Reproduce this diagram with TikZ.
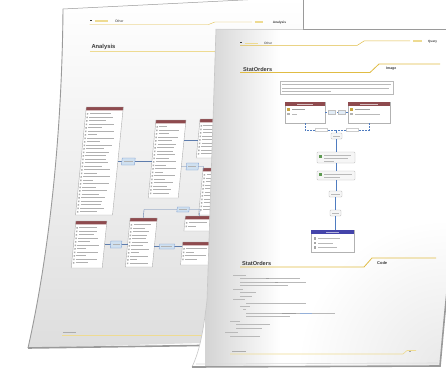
\documentclass[tikz,border=0pt]{standalone}
\usepackage{fontspec}
\setmainfont{Liberation Sans}
\usetikzlibrary{calc}

\definecolor{gold}{HTML}{E0BC44}
\definecolor{goldlight}{HTML}{EEDB92}
\definecolor{maroon}{HTML}{8E4A4E}
\definecolor{connblue}{HTML}{4F7CC0}
\definecolor{lblfill}{HTML}{CFE0F0}
\definecolor{indigo}{HTML}{4444AA}
\definecolor{edgegray}{HTML}{9A9A9A}
\definecolor{ink}{HTML}{3A3A3A}
\definecolor{keyicon}{HTML}{C9A640}
\definecolor{greenicon}{HTML}{5E9A52}

\tikzset{
  tableedge/.style={draw=gray!65, line width=0.4},
  rowtext/.style={draw=gray!62, line width=0.9},
  rowicon/.style={fill=gray!65},
  linkline/.style={draw=connblue!70!gray, line width=0.4},
  lblbox/.style={fill=lblfill, draw=connblue!80, line width=0.3},
  dashconn/.style={draw=connblue, line width=0.7, dash pattern=on 2pt off 1pt},
  flowline/.style={draw=connblue, line width=0.7},
  flowbox/.style={draw=gray!55, fill=gray!7, rounded corners=0.8pt, line width=0.4, inner sep=0pt},
  bar/.style={draw=gray!55, line width=0.9},
  darkbar/.style={draw=gray!75, line width=1.0},
  headtext/.style={anchor=west, inner sep=0pt, text=ink},
}

% one database table: x1, y1, x2, y2, header colour
\newcommand\ertable[5]{%
  \pgfmathsetmacro\tw{#3-#1}%
  \pgfmathsetmacro\hb{#2+3.4}%
  \fill[white] (#1,#2) rectangle (#3,#4);
  \fill[#5] (#1,#2) rectangle (#3,\hb);
  \draw[tableedge] (#1,#2) rectangle (#3,#4);
  \pgfmathtruncatemacro\nrows{(#4-#2-6)/3.5}%
  \foreach \k in {1,...,\nrows}{
    \pgfmathsetmacro\yy{#2+3.4+3.5*\k}
    \pgfmathsetmacro\xe{#1+4.2+(0.3+0.55*abs(sin(\k*83+#1*7)))*(\tw-6)}
    \fill[rowicon] (#1+1.2,\yy-0.7) rectangle (#1+2.6,\yy+0.7);
    \draw[rowtext] (#1+4,\yy) -- (\xe,\yy);
  }
}

\begin{document}
\begin{tikzpicture}[x=1pt,y=-1pt]
\useasboundingbox (0,0) rectangle (446,369);
\fill[white] (0,0) rectangle (446,369);

% ---------------- back page ----------------
\def\backpage{(63,9) -- (303,-3) -- (303,340) -- (28,348)
  .. controls (50,250) and (62,130) .. (63,9) -- cycle}
\shade[top color=white, bottom color=gray!26] \backpage;
\begin{scope}
  \clip \backpage;
  \begin{scope}[xslant=0.1]
    % running header
    \draw[ink, line width=0.6] (92,20) -- (93.5,20);
    \draw[goldlight, line width=1.2] (97,21) -- (110,21);
    \node[headtext, font=\fontsize{3.4}{4}\selectfont] at (117,21.5) {Other};
    \draw[gold, line width=0.4] (92,24.5) -- (211,24.5) -- (217,22) -- (254,22);
    \draw[goldlight, line width=1.2] (257,22) -- (265,22);
    \node[headtext, font=\fontsize{3.2}{4}\selectfont\bfseries] at (275,22.5) {Analysis};
    % section heading
    \node[headtext, font=\fontsize{5.8}{7}\selectfont\bfseries] at (96,47) {Analysis};
    \draw[goldlight, line width=0.8] (95,51) -- (330,51);

    % tables
    \ertable{97}{107}{134}{215}{maroon}
    \ertable{168}{120}{198}{198}{maroon}
    \ertable{212}{119}{250}{158}{maroon}
    \ertable{220}{168}{256}{215}{maroon}
    \ertable{98}{221}{129}{268}{maroon}
    \ertable{152}{218}{179}{267}{maroon}
    \ertable{207}{216}{234}{231}{maroon}
    \ertable{207}{242}{237}{265}{maroon}

    % relationship labels and links
    \draw[linkline] (134,161.5) -- (168,161.5);
    \draw[linkline] (198,140) -- (212,140);
    \draw[linkline] (198,166.5) -- (220,166.5) -- (220,170);
    \draw[linkline] (129,244.5) -- (152,244.5);
    \draw[linkline] (179,246.5) -- (207,246.5);
    \draw[linkline] (165,218) -- (165,209.5) -- (221,209.5) -- (221,216);
    \filldraw[lblbox] (138,158) rectangle (151,165);
    \filldraw[lblbox] (203,163) rectangle (215,170);
    \filldraw[lblbox] (135,241) rectangle (146,248);
    \filldraw[lblbox] (198,207) rectangle (210,212);
    \filldraw[lblbox] (184,244) rectangle (199,249);
    \draw[gray!60, line width=0.5] (140,161.5) -- (149,161.5);
    \draw[gray!60, line width=0.5] (205,166.5) -- (213,166.5);
    \draw[gray!60, line width=0.5] (137,244.5) -- (144,244.5);
    \draw[gray!60, line width=0.5] (200,209.5) -- (208,209.5);
    \draw[gray!60, line width=0.5] (186,246.5) -- (197,246.5);

    % footer
    \draw[gray!65, line width=0.8] (96,332) -- (109,332);
    \draw[goldlight, line width=0.6] (96,335.5) -- (300,335.5);
  \end{scope}
\end{scope}
% paper edges of the back page
\draw[edgegray, line width=0.9] (303,-3) -- (303,29);
\draw[edgegray, line width=0.9] (63,9) .. controls (62,130) and (50,250) .. (28,348);
\draw[edgegray, line width=0.5] (63,9) -- (303,-3);
\draw[edgegray, line width=1.6] (28,348) -- (200,345.5);

% ---------------- front page ----------------
\def\frontpage{(216,29) -- (447,29) -- (447,292)
  .. controls (444,320) and (442,345) .. (440,366) -- (192,367)
  .. controls (199,352) and (203,335) .. (207,300) -- cycle}
\fill[white] \frontpage;
\begin{scope}
  \clip \frontpage;
  \shade[left color=gray!34, right color=white] (205,29) rectangle (280,369);
  \shade[inner color=gray!18, outer color=white] (447,369) circle (150);
\end{scope}
\draw[gray!45, line width=0.6] (216,29) -- (207,300) .. controls (203,335) and (199,352) .. (192,367);
\draw[gray!35, line width=0.4] (216,29) -- (303,29);
\draw[edgegray, line width=1.0] (303,29.5) -- (447,29.5);
\draw[edgegray, line width=1.6] (447,292) .. controls (444,320) and (442,345) .. (440,366) -- (192,367);
\draw[gray!30, line width=0.6] (438,363) -- (196,364);

% running header
\draw[ink, line width=0.6] (240,42) -- (241.5,42);
\draw[goldlight, line width=1.2] (245,43.5) -- (258,43.5);
\node[headtext, font=\fontsize{3.2}{4}\selectfont] at (264,43.5) {Other};
\draw[gold, line width=0.5] (240,45.5) -- (357,45.5) -- (364,41) -- (410,41);
\draw[goldlight, line width=1.2] (413,41) -- (422,41);
\node[headtext, font=\fontsize{3.1}{4}\selectfont\bfseries] at (428,41.5) {Query};

% heading: image section
\node[headtext, font=\fontsize{5.6}{7}\selectfont\bfseries] at (243,69) {StatOrders};
\draw[gold, line width=0.8] (240,72.5) -- (370,72.5) -- (379,64) -- (440,64);
\node[headtext, font=\fontsize{3.5}{4}\selectfont\bfseries] at (386,68.5) {Image};

% description box
\filldraw[fill=white, draw=gray!55, line width=0.4] (280,81) rectangle (393,94);
\draw[bar, line width=0.7] (282,84.5) -- (391,84.5);
\draw[bar, line width=0.7] (282,88) -- (389,88);
\draw[bar, line width=0.7] (282,91.2) -- (331,91.2);

% two tables joined by a relationship
\node[inner sep=0pt, minimum width=40pt, minimum height=21pt] (t1) at (305,112.5) {};
\node[inner sep=0pt, minimum width=42pt, minimum height=21pt] (t2) at (369,112.5) {};
\foreach \a/\b in {285/325, 348/390}{
  \filldraw[fill=white, draw=gray!60, line width=0.4] (\a,102) rectangle (\b,123);
  \fill[maroon] (\a,102) rectangle (\b,105.5);
  \draw[white!65!maroon, line width=0.6] ({\a+12},103.8) -- ({\b-12},103.8);
  \fill[keyicon] ({\a+2},107.5) rectangle ({\a+4.5},110.5);
  \fill[gray!60] ({\a+2},113) rectangle ({\a+4.5},115);
}
\draw[darkbar] (292,109) -- (305,109);
\draw[bar] (292,114) -- (297,114);
\draw[darkbar] (355,109) -- (370,109);
\draw[bar] (355,114) -- (380,114);
\coordinate (jn) at (336,130);
\draw[dashconn] (t1.east) -- (t2.west);
\draw[dashconn] (t1.south) |- (jn);
\draw[dashconn] (t2.south) |- (jn);
\filldraw[fill=lblfill!60!white, draw=gray!50, line width=0.3] (328,110.5) rectangle (335,114.5);
\filldraw[fill=lblfill!60!white, draw=gray!50, line width=0.3] (338,110.5) rectangle (345,114.5);
\filldraw[fill=white, draw=gray!40, line width=0.3] (315,128.5) rectangle (327,131.5);
\filldraw[fill=white, draw=gray!40, line width=0.3] (346,128.5) rectangle (358,131.5);

% flow of steps
\node[flowbox, minimum width=11pt, minimum height=6pt] (g1) at (336.5,136) {};
\node[flowbox, minimum width=38pt, minimum height=11pt] (g2) at (336,157.5) {};
\node[flowbox, minimum width=38pt, minimum height=9pt] (g3) at (336,175.5) {};
\node[flowbox, minimum width=13pt, minimum height=6pt] (g4) at (335.5,194) {};
\node[flowbox, minimum width=11pt, minimum height=6pt] (g5) at (335.5,213) {};
\node[inner sep=0pt, minimum width=43pt, minimum height=22pt] (t3) at (332.5,241) {};
\draw[flowline] (jn) -- (jn |- g1.north);
\draw[flowline] (g1.south) -- (g1.south |- g2.north);
\draw[flowline] (g2.south) -- (g2.south |- g3.north);
\draw[flowline] (g3.south) -- (g3.south |- g4.north);
\draw[flowline] (g4.south) -- (g4.south |- g5.north);
\draw[flowline] (g5.south) -- (g5.south |- t3.north);
\draw[bar, line width=0.7] (333,136) -- (340,136);
\fill[greenicon] (319,155) rectangle (322,158);
\draw[bar, line width=0.7] (324,155.5) -- (351,155.5);
\draw[bar, line width=0.7] (324,158.5) -- (348,158.5);
\draw[bar, line width=0.7] (324,161.2) -- (334,161.2);
\fill[greenicon] (319,173) rectangle (322,176);
\draw[bar, line width=0.7] (324,174) -- (352,174);
\draw[bar, line width=0.7] (324,177.2) -- (340,177.2);
\draw[bar, line width=0.7] (331,194) -- (340,194);
\draw[bar, line width=0.7] (332,213) -- (339,213);

% result table
\filldraw[fill=white, draw=gray!60, line width=0.4] (t3.north west) rectangle (t3.south east);
\fill[indigo] (t3.north west) rectangle ($(t3.north east)+(0,4.5)$);
\draw[white!60!indigo, line width=0.6] (326,232.2) -- (339,232.2);
\foreach \yy/\xe in {238.5/340, 243/333, 247.5/337}{
  \fill[gray!70] (313.5,\yy-1.2) rectangle (316,\yy+1.2);
  \draw[bar, line width=0.7] (318,\yy) -- (\xe,\yy);
}

% heading: code section
\node[headtext, font=\fontsize{5.6}{7}\selectfont\bfseries] at (242,263) {StatOrders};
\draw[gold, line width=0.8] (240,267) -- (364,267) -- (372,258) -- (436,258);
\node[headtext, font=\fontsize{4}{5}\selectfont\bfseries] at (377,263) {Code};

% code listing
\foreach \xa/\xb/\yy in {
  233/246/275, 240/300/278.5, 240/306/282, 240/288/285.5,
  233/243/289, 240/256/292.5, 240/252/296, 233/245/299.5,
  246/306/303, 240/250/306.5, 243/246/309.5, 246/335/313,
  246/290/316.5, 230/240/321, 236/270/324.5, 236/262/328,
  225/238/332, 230/260/336}{
  \draw[bar, line width=0.75] (\xa,\yy) -- (\xb,\yy);
}
\draw[gray!75, line width=0.8] (282,313) -- (296,313);
\draw[connblue!60, line width=0.8] (300,313) -- (312,313);
\draw[gray!75, line width=0.8] (266,278.5) -- (269,278.5);
\draw[gray!75, line width=0.8] (275,282) -- (278,282);

% footer
\draw[gray!65, line width=0.8] (232,351) -- (246,351);
\draw[goldlight, line width=0.6] (230,354) -- (403,354) -- (407,350.5) -- (416,350.5);
\draw[gray!70, line width=0.8] (409,351) -- (410.5,351);
\end{tikzpicture}
\end{document}
